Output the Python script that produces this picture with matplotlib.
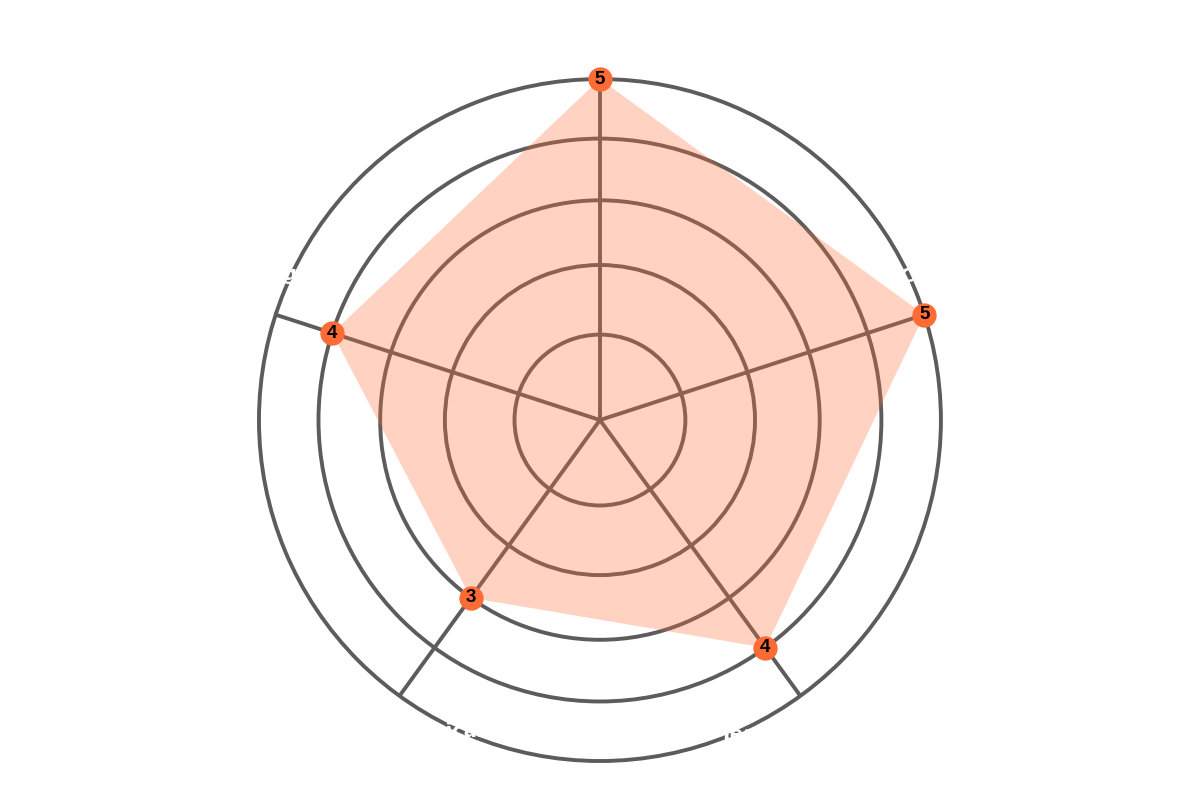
import numpy as np
import matplotlib
matplotlib.use("Agg")
from matplotlib import pyplot as plt

# data
categories = ["Leadership", "Creativity", "Teamwork", "Technical", "Planning"]
scores = [5, 5, 4, 3, 4]
rings = [1, 2, 3, 4]

grid_col = "#5c5c5c"
fill_col = "#FF6B35"

n = len(categories)
angles = np.linspace(0, 2 * np.pi, n, endpoint=False)

fig = plt.figure(figsize=(12, 8.01), dpi=100)
ax = fig.add_axes([0.2158, 0.0499, 0.5683, 0.8514], polar=True)
ax.set_theta_offset(np.pi / 2)
ax.set_theta_direction(-1)
# rings get a little tighter towards the edge
ax.set_rscale("function", functions=(lambda v: np.power(np.clip(v, 0, None), 0.86),
                                     lambda v: np.power(np.clip(v, 0, None), 1 / 0.86)))
ax.set_ylim(0, 5)
ax.set_axisbelow(False)

ax.set_xticks(angles)
ax.set_xticklabels([])
ax.set_yticks(rings)
ax.set_yticklabels([])
ax.tick_params(length=0)
ax.grid(True, color=grid_col, linewidth=2.8)
ax.spines["polar"].set_color(grid_col)
ax.spines["polar"].set_linewidth(2.8)

a_closed = np.append(angles, angles[0])
s_closed = np.append(scores, scores[0])
ax.fill(a_closed, s_closed, color=fill_col, alpha=0.3, linewidth=0, zorder=2.7)
ax.plot(angles, scores, "o", color=fill_col, markersize=17.5, markeredgewidth=0,
        zorder=3, clip_on=False)
for a, s in zip(angles, scores):
    ax.text(a, s, str(s), ha="center", va="center", fontsize=13.5, fontweight="bold",
            family="Liberation Sans", color="black", zorder=4, clip_on=False)

# category labels (white, sit across the outer ring)
label_pos = [(0.5, 1.03, "center", "bottom"),
             (0.94, 0.71, "left", "center"),
             (0.676, 0.053, "left", "top"),
             (0.331, 0.057, "right", "top"),
             (0.056, 0.713, "right", "center")]
for lab, (x, y, ha, va) in zip(categories, label_pos):
    ax.text(x, y, lab, transform=ax.transAxes, ha=ha, va=va, fontsize=14,
            fontweight="bold", color="white", zorder=5, clip_on=False)

plt.savefig("out.png", dpi=100)
